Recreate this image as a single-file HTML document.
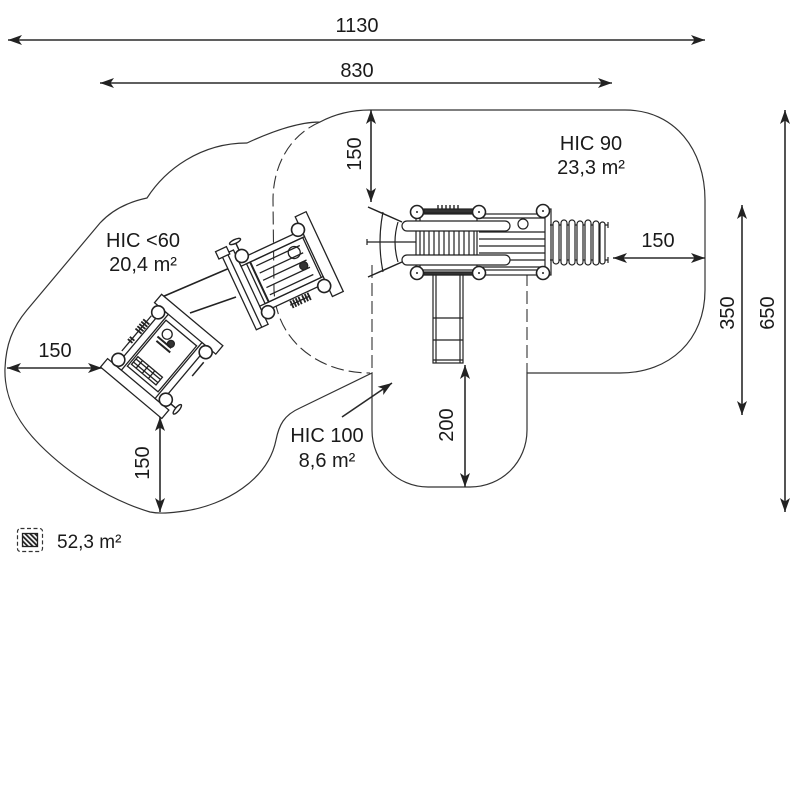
<!DOCTYPE html>
<html><head><meta charset="utf-8"><style>
html,body{margin:0;padding:0;background:#fff;}
svg{display:block;}
text{font-family:"Liberation Sans",Arial,sans-serif;font-size:20px;fill:#1a1a1a;}
</style></head><body>
<svg width="800" height="800" viewBox="0 0 800 800" xmlns="http://www.w3.org/2000/svg">
<defs>
<marker id="ar" viewBox="0 0 14 10" refX="14" refY="5" markerWidth="14" markerHeight="10" markerUnits="userSpaceOnUse" orient="auto-start-reverse">
<path d="M0,0 L14,5 L0,10 L3.5,5 Z" fill="#222"/>
</marker>
<pattern id="hatch" width="3.5" height="3.5" patternUnits="userSpaceOnUse" patternTransform="rotate(-45)">
<rect width="1.8" height="3.5" fill="#222"/>
</pattern>
</defs>

<!-- outline -->
<path d="M370,110 L625,110 C675,110 705,150 705,200 L705,290 C705,340 670,373 620,373 L527,373 L527,430 C527,462 502,487 470,487 L428,487 C397,487 372,462 372,430 L372,373 L300,408 C284,415 279,425 276,440 C268,480 225,505 185,511 C170,513 160,514 150,512 C110,500 70,475 40,445 C15,420 4,395 5,368 C6,345 12,328 27,310 L100,223 C112,210 128,202 147,198 C165,170 200,143 247,143 C275,130 300,122 320,122 C335,114 352,110 370,110 Z" fill="none" stroke="#333" stroke-width="1.2"/>
<!-- dashed boundaries -->
<g fill="none" stroke="#333" stroke-width="1.1" stroke-dasharray="13,5">
<path d="M320,122 C290,135 273,165 273,200 L274,290 C276,340 318,373 370,373"/>
<path d="M372,265 L372,373"/>
<path d="M527,273 L527,373"/>
</g>

<!-- dimension lines -->
<g stroke="#2a2a2a" stroke-width="1.6" fill="none">
<line x1="8" y1="40" x2="705" y2="40" marker-start="url(#ar)" marker-end="url(#ar)"/>
<line x1="100" y1="83" x2="612" y2="83" marker-start="url(#ar)" marker-end="url(#ar)"/>
<line x1="785" y1="110" x2="785" y2="512" marker-start="url(#ar)" marker-end="url(#ar)"/>
<line x1="742" y1="205" x2="742" y2="415" marker-start="url(#ar)" marker-end="url(#ar)"/>
<line x1="371" y1="110" x2="371" y2="202" marker-start="url(#ar)" marker-end="url(#ar)"/>
<line x1="613" y1="258" x2="705" y2="258" marker-start="url(#ar)" marker-end="url(#ar)"/>
<line x1="7" y1="368" x2="102" y2="368" marker-start="url(#ar)" marker-end="url(#ar)"/>
<line x1="160" y1="417" x2="160" y2="512" marker-start="url(#ar)" marker-end="url(#ar)"/>
<line x1="465" y1="365" x2="465" y2="487" marker-start="url(#ar)" marker-end="url(#ar)"/>
<line x1="342" y1="417" x2="392" y2="383" marker-end="url(#ar)"/>
</g>

<!-- dimension texts -->
<text x="357" y="32" text-anchor="middle">1130</text>
<text x="357" y="77" text-anchor="middle">830</text>
<text x="658" y="247" text-anchor="middle">150</text>
<text x="55" y="357" text-anchor="middle">150</text>
<text transform="translate(768,313) rotate(-90)" text-anchor="middle" dominant-baseline="central">650</text>
<text transform="translate(728,313) rotate(-90)" text-anchor="middle" dominant-baseline="central">350</text>
<text transform="translate(355,154) rotate(-90)" text-anchor="middle" dominant-baseline="central">150</text>
<text transform="translate(143,463) rotate(-90)" text-anchor="middle" dominant-baseline="central">150</text>
<text transform="translate(447,425) rotate(-90)" text-anchor="middle" dominant-baseline="central">200</text>

<!-- area labels -->
<text x="591" y="150" text-anchor="middle">HIC 90</text>
<text x="591" y="174" text-anchor="middle">23,3 m²</text>
<text x="143" y="247" text-anchor="middle">HIC &lt;60</text>
<text x="143" y="271" text-anchor="middle">20,4 m²</text>
<text x="327" y="442" text-anchor="middle">HIC 100</text>
<text x="327" y="467" text-anchor="middle">8,6 m²</text>

<!-- legend -->
<rect x="17.5" y="528.5" width="25" height="23" rx="3" fill="none" stroke="#333" stroke-width="1.2" stroke-dasharray="4,2.5"/>
<rect x="22.5" y="533.5" width="15" height="13" fill="url(#hatch)" stroke="#222" stroke-width="1.3"/>
<text x="57" y="548" style="font-size:19px">52,3 m²</text>

<!-- RIGHT STRUCTURE -->
<g stroke="#222" stroke-width="1.2" fill="none">
<!-- net -->
<path d="M368,207 L402,222 M368,277 L402,262" stroke-width="1.5"/>
<path d="M383,212 Q377,242 383,272 M398,222 Q392,242 398,262"/>
<path d="M367,242 L416,242 M367,239 L367,245"/>
<!-- slide -->
<rect x="433" y="273" width="30" height="90" fill="#fff"/>
<path d="M436,273 L436,363 M460,273 L460,363 M433,318 L463,318 M433,340 L463,340 M433,360 L463,360"/>
<!-- platform -->
<rect x="416" y="214" width="130" height="57" fill="#fff"/>
<rect x="420" y="270" width="125" height="5" fill="#fff"/>
<path d="M477,213 L477,273 M420,213 L420,273"/>
<path d="M479,218 L545,218 M479,232 L545,232 M479,239 L545,239 M479,246 L545,246 M479,253 L545,253 M479,260 L545,260 M479,267 L545,267"/>
<path d="M424,231 L424,255 M429,231 L429,255 M434,231 L434,255 M439,231 L439,255 M444,231 L444,255 M449,231 L449,255 M454,231 L454,255 M459,231 L459,255 M464,231 L464,255 M469,231 L469,255 M474,231 L474,255"/>
<path d="M438,205 L438,212 M442,205 L442,212 M446,205 L446,212 M450,205 L450,212 M454,205 L454,212 M458,205 L458,212" stroke-width="1.4"/>
<rect x="424" y="209" width="50" height="4" fill="#333"/>
<rect x="424" y="272" width="50" height="3" fill="#333"/>
<!-- rails -->
<rect x="402" y="221" width="108" height="10" rx="5" fill="#fff"/>
<rect x="402" y="255" width="108" height="10" rx="5" fill="#fff"/>
<circle cx="523" cy="224" r="5" fill="#fff"/>
<!-- end cap -->
<rect x="545" y="209" width="6" height="66" fill="#fff"/>
<!-- ladder -->
<path d="M550,225 L608,225 M550,260 L608,260 M608,222 L608,228 M608,257 L608,263"/>
<rect x="553" y="221" width="6" height="43" rx="3" fill="#fff"/>
<rect x="561" y="220" width="6" height="45" rx="3" fill="#fff"/>
<rect x="569" y="220" width="6" height="45" rx="3" fill="#fff"/>
<rect x="577" y="221" width="6" height="44" rx="3" fill="#fff"/>
<rect x="585" y="220" width="6" height="45" rx="3" fill="#fff"/>
<rect x="593" y="221" width="6" height="44" rx="3" fill="#fff"/>
<rect x="600" y="222" width="5" height="42" rx="2.5" fill="#fff"/>
<!-- posts -->
<g fill="#fff" stroke-width="1.6">
<circle cx="417" cy="212" r="6.5"/><circle cx="479" cy="212" r="6.5"/><circle cx="543" cy="211" r="6.5"/>
<circle cx="417" cy="273" r="6.5"/><circle cx="479" cy="273" r="6.5"/><circle cx="543" cy="273" r="6.5"/>
</g>
<g fill="#222" stroke="none">
<circle cx="417" cy="212" r="1"/><circle cx="479" cy="212" r="1"/><circle cx="543" cy="211" r="1"/>
<circle cx="417" cy="273" r="1"/><circle cx="479" cy="273" r="1"/><circle cx="543" cy="273" r="1"/>
</g>
</g>

<!-- LEFT STRUCTURE: beams -->
<g stroke="#222" stroke-width="1.6" fill="none">
<line x1="162" y1="297" x2="232" y2="267"/>
<line x1="190" y1="313" x2="236" y2="297"/>
</g>

<!-- Module A -->
<g transform="translate(162,356) rotate(40)" stroke="#222" stroke-width="1.3" fill="none">
<rect x="-40" y="-47" width="80" height="11" fill="#fff"/>
<rect x="-40" y="37" width="80" height="11" fill="#fff"/>
<rect x="-29" y="-36" width="7" height="73" fill="#fff"/>
<rect x="22" y="-36" width="7" height="73" fill="#fff"/>
<rect x="-20" y="-30" width="40" height="60"/>
<rect x="-18" y="16" width="32" height="10" fill="#fff"/>
<path d="M-18,19 L14,19 M-18,23 L14,23 M-12,16 L-12,26 M-4,16 L-4,26 M4,16 L4,26"/>
<circle cx="-10" cy="-20" r="5"/>
<circle cx="-1" cy="-15" r="3.5" fill="#333"/>
<path d="M-16,-12 L2,-12 M-14,-8 L4,-8" stroke-width="2"/>
<line x1="-34" y1="-24" x2="-34" y2="22"/>
<path d="M-38,-16 L-30,-16 M-38,-13 L-30,-13 M-38,-10 L-30,-10 M-38,-7 L-30,-7 M-38,-4 L-30,-4 M-37,6 L-31,6 M-37,9 L-31,9" stroke-width="1.8"/>
<line x1="37" y1="31" x2="45" y2="31" stroke-width="1.5"/>
<ellipse cx="46" cy="31" rx="2" ry="6" fill="#fff" stroke-width="1.4"/>
<line x1="36" y1="-22" x2="36" y2="-4" stroke-width="1.5"/>
<g fill="#fff" stroke-width="1.6">
<circle cx="-31" cy="-31" r="6.5"/><circle cx="31" cy="-31" r="6.5"/>
<circle cx="-31" cy="31" r="6.5"/><circle cx="31" cy="31" r="6.5"/>
</g>
</g>

<!-- Module B -->
<g transform="translate(283,271) rotate(-25)" stroke="#222" stroke-width="1.3" fill="none">
<rect x="-49" y="-40" width="13" height="82" fill="#fff"/>
<line x1="-43" y1="-40" x2="-43" y2="42"/>
<rect x="-53" y="-46" width="12" height="8" fill="#fff"/>
<rect x="34" y="-44" width="12" height="88" fill="#fff"/>
<rect x="-36" y="-29" width="70" height="7" fill="#fff"/>
<rect x="-36" y="22" width="70" height="7" fill="#fff"/>
<rect x="-30" y="-22" width="62" height="44"/>
<path d="M-22,-16 L26,-16 M-22,-8 L26,-8 M-22,0 L26,0 M-22,8 L26,8 M-22,16 L26,16"/>
<path d="M-26,-22 L-26,22" stroke-width="2"/>
<circle cx="18" cy="-12" r="6"/>
<circle cx="21" cy="4" r="4" fill="#333"/>
<line x1="-8" y1="34" x2="14" y2="34"/>
<path d="M-6,30 L-6,38 M-3,30 L-3,38 M0,30 L0,38 M3,30 L3,38 M7,30 L7,38 M10,30 L10,38 M13,30 L13,38" stroke-width="1.8"/>
<line x1="-31" y1="-38" x2="-31" y2="-46" stroke-width="1.5"/>
<ellipse cx="-31" cy="-47" rx="6" ry="2" fill="#fff" stroke-width="1.4"/>
<g fill="#fff" stroke-width="1.6">
<circle cx="-31" cy="-31" r="6.5"/><circle cx="31" cy="-31" r="6.5"/>
<circle cx="-31" cy="31" r="6.5"/><circle cx="31" cy="31" r="6.5"/>
</g>
</g>
</svg>
</body></html>
